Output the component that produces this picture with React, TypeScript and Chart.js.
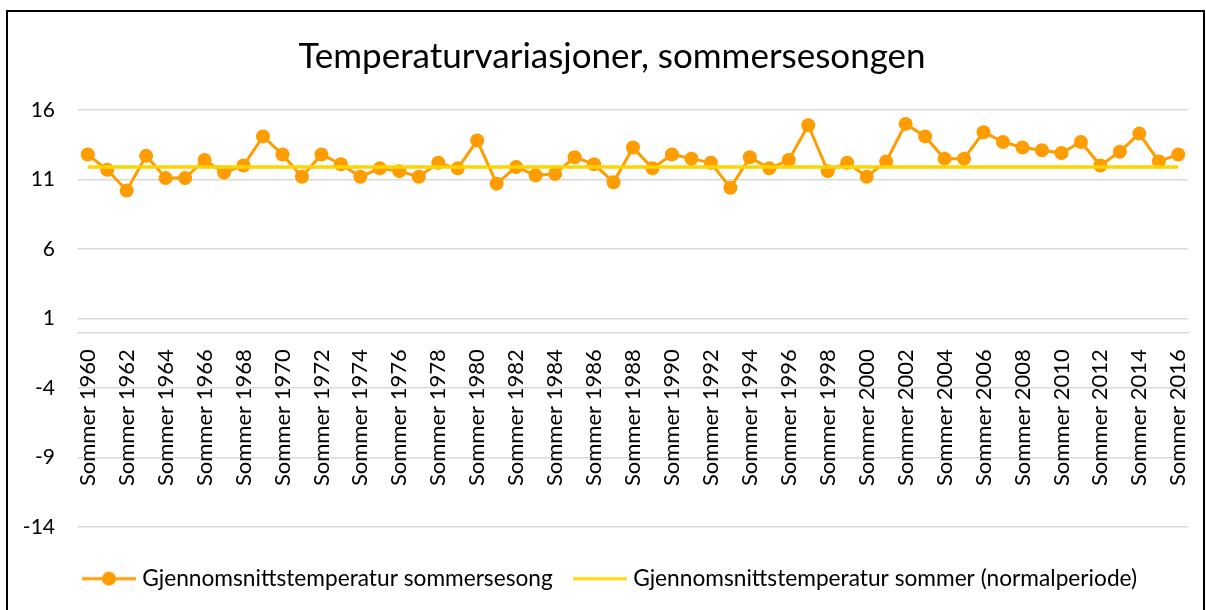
import React, { useEffect, useRef } from "react";
import { Chart, registerables } from "chart.js";

Chart.register(...registerables);

const CATEGORIES = [
  "Sommer 1960", "Sommer 1961", "Sommer 1962", "Sommer 1963", "Sommer 1964", "Sommer 1965", "Sommer 1966", "Sommer 1967", "Sommer 1968", "Sommer 1969",
  "Sommer 1970", "Sommer 1971", "Sommer 1972", "Sommer 1973", "Sommer 1974", "Sommer 1975", "Sommer 1976", "Sommer 1977", "Sommer 1978", "Sommer 1979",
  "Sommer 1980", "Sommer 1981", "Sommer 1982", "Sommer 1983", "Sommer 1984", "Sommer 1985", "Sommer 1986", "Sommer 1987", "Sommer 1988", "Sommer 1989",
  "Sommer 1990", "Sommer 1991", "Sommer 1992", "Sommer 1993", "Sommer 1994", "Sommer 1995", "Sommer 1996", "Sommer 1997", "Sommer 1998", "Sommer 1999",
  "Sommer 2000", "Sommer 2001", "Sommer 2002", "Sommer 2003", "Sommer 2004", "Sommer 2005", "Sommer 2006", "Sommer 2007", "Sommer 2008", "Sommer 2009",
  "Sommer 2010", "Sommer 2011", "Sommer 2012", "Sommer 2013", "Sommer 2014", "Sommer 2015", "Sommer 2016",
];

const SUMMER_AVG = [
  12.8, 11.7, 10.2, 12.7, 11.1, 11.1, 12.4, 11.5, 12.0, 14.1,
  12.8, 11.2, 12.8, 12.1, 11.2, 11.8, 11.6, 11.2, 12.2, 11.8,
  13.8, 10.7, 11.9, 11.3, 11.4, 12.6, 12.1, 10.8, 13.3, 11.8,
  12.8, 12.5, 12.2, 10.4, 12.6, 11.8, 12.4, 14.9, 11.6, 12.2,
  11.2, 12.3, 15.0, 14.1, 12.5, 12.5, 14.4, 13.7, 13.3, 13.1,
  12.9, 13.7, 12.0, 13.0, 14.3, 12.3, 12.8,
];

const NORMAL_AVG = [
  11.9, 11.9, 11.9, 11.9, 11.9, 11.9, 11.9, 11.9, 11.9, 11.9,
  11.9, 11.9, 11.9, 11.9, 11.9, 11.9, 11.9, 11.9, 11.9, 11.9,
  11.9, 11.9, 11.9, 11.9, 11.9, 11.9, 11.9, 11.9, 11.9, 11.9,
  11.9, 11.9, 11.9, 11.9, 11.9, 11.9, 11.9, 11.9, 11.9, 11.9,
  11.9, 11.9, 11.9, 11.9, 11.9, 11.9, 11.9, 11.9, 11.9, 11.9,
  11.9, 11.9, 11.9, 11.9, 11.9, 11.9, 11.9,
];

const Y_MIN = -14;
const Y_MAX = 16;
const Y_STEP = 5;

const TITLE = "Temperaturvariasjoner, sommersesongen";
const SERIES_NAMES = [
  "Gjennomsnittstemperatur sommersesong",
  "Gjennomsnittstemperatur sommer (normalperiode)",
];

const ORANGE = "#FF9C00";
const YELLOW = "#FFD500";
const GRID = "#d9d9d9";
const TEXT = "#000000";
const FONT = "Lato, 'Liberation Sans', sans-serif";

function legendImage(color: string, marker: boolean): HTMLCanvasElement {
  const c = document.createElement("canvas");
  c.width = 54;
  c.height = 16;
  const ctx = c.getContext("2d")!;
  ctx.strokeStyle = color;
  ctx.lineWidth = 3;
  ctx.beginPath();
  ctx.moveTo(0, 8);
  ctx.lineTo(54, 8);
  ctx.stroke();
  if (marker) {
    ctx.fillStyle = color;
    ctx.beginPath();
    ctx.arc(27, 8, 7, 0, Math.PI * 2);
    ctx.fill();
  }
  return c;
}

export default function App() {
  const ref = useRef<HTMLCanvasElement>(null);

  useEffect(() => {
    document.body.style.margin = "0";
    const imgs = [legendImage(ORANGE, true), legendImage(YELLOW, false)];
    const colors = [ORANGE, YELLOW];
    const chart = new Chart(ref.current!, {
      type: "line",
      data: {
        labels: CATEGORIES,
        datasets: [
          {
            label: SERIES_NAMES[0],
            data: SUMMER_AVG,
            borderColor: ORANGE,
            backgroundColor: ORANGE,
            borderWidth: 3,
            pointRadius: 7,
            pointBorderWidth: 0,
            pointBackgroundColor: ORANGE,
            pointHoverRadius: 7,
            tension: 0,
            order: 1,
          },
          {
            label: SERIES_NAMES[1],
            data: NORMAL_AVG,
            borderColor: YELLOW,
            backgroundColor: YELLOW,
            borderWidth: 3.5,
            pointRadius: 0,
            pointHoverRadius: 0,
            tension: 0,
            order: 0,
          },
        ],
      },
      options: {
        animation: false,
        responsive: false,
        maintainAspectRatio: false,
        events: [],
        layout: { padding: { left: 18, right: 0, top: 0, bottom: 10 } },
        plugins: {
          title: {
            display: true,
            text: TITLE,
            color: TEXT,
            font: { family: FONT, size: 35, weight: "normal" },
            padding: { top: 36, bottom: 32 },
          },
          legend: {
            position: "bottom",
            labels: {
              usePointStyle: true,
              pointStyleWidth: 44,
              padding: 25,
              color: TEXT,
              font: { family: FONT, size: 22.7 },
              generateLabels: () =>
                SERIES_NAMES.map((t, i) => ({
                  text: t,
                  datasetIndex: i,
                  pointStyle: imgs[i] as any,
                  fillStyle: colors[i],
                  strokeStyle: colors[i],
                  lineWidth: 0,
                  hidden: false,
                  fontColor: TEXT,
                })),
            },
          },
          tooltip: { enabled: false },
        },
        scales: {
          x: {
            type: "category",
            position: { y: 0 } as any,
            offset: true,
            grid: { display: false, drawTicks: false },
            border: { display: true, color: GRID, width: 1.5 },
            ticks: {
              autoSkip: false,
              minRotation: 90,
              maxRotation: 90,
              padding: 17,
              color: TEXT,
              font: { family: FONT, size: 22 },
              callback: function (this: any, v: any, i: number) {
                return i % 2 === 0 ? this.getLabelForValue(v) : "";
              },
            },
            afterFit: (s: any) => {
              s.paddingLeft = 0;
              s.paddingRight = 0;
            },
          },
          x2: {
            type: "category",
            position: "bottom",
            grid: { display: false, drawTicks: false },
            border: { display: false },
            ticks: { display: false },
            afterFit: (s: any) => {
              s.height = 15.5;
              s.paddingLeft = 0;
              s.paddingRight = 0;
            },
          },
          y: {
            type: "linear",
            position: "left",
            min: Y_MIN,
            max: Y_MAX,
            ticks: {
              stepSize: Y_STEP,
              padding: 23,
              color: TEXT,
              font: { family: FONT, size: 21 },
            },
            grid: { color: GRID, lineWidth: 1.5, drawTicks: false },
            border: { display: false },
            afterFit: (s: any) => {
              s.width = 60;
            },
          },
          y2: {
            type: "linear",
            position: "right",
            grid: { display: false, drawTicks: false },
            border: { display: false },
            ticks: { display: false },
            afterFit: (s: any) => {
              s.width = 18;
            },
          },
        },
      },
    });
    return () => chart.destroy();
  }, []);

  return (
    <div style={{ position: "relative", width: 1206, height: 610, overflow: "hidden", background: "#fff" }}>
      <div
        style={{
          position: "absolute",
          left: 6,
          top: 10,
          width: 1195,
          height: 700,
          border: "2px solid #000",
        }}
      />
      <canvas ref={ref} width={1206} height={610} style={{ position: "absolute", left: 0, top: 0 }} />
    </div>
  );
}
